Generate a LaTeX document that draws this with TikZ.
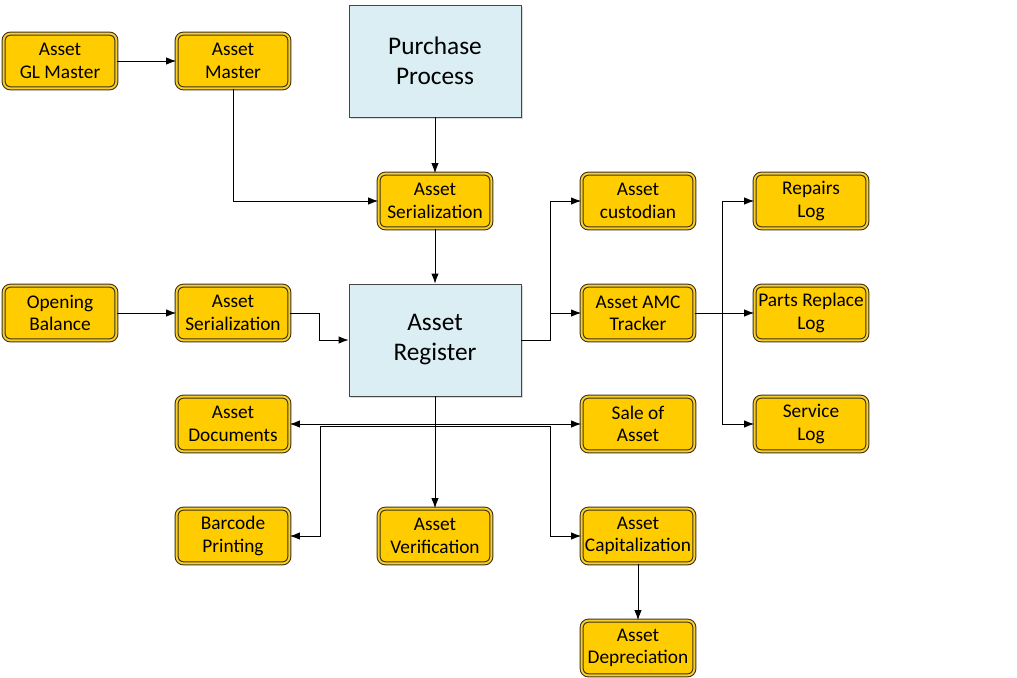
\documentclass[tikz,border=0pt]{standalone}
\usepackage{fontspec}
\setmainfont{Carlito}
\usetikzlibrary{arrows.meta,shadows}

\definecolor{boxgold}{RGB}{255,204,0}
\definecolor{boxedge}{RGB}{60,52,25}
\definecolor{boxrim}{RGB}{250,205,40}
\definecolor{procblue}{RGB}{218,238,243}
\definecolor{procedge}{RGB}{70,70,70}

\begin{document}
\begin{tikzpicture}[x=0.75pt,y=-0.75pt,
	module/.style={draw=boxedge, line width=0.8pt, double=boxrim, double distance=1.4pt,
		fill=boxgold, rounded corners=5pt, minimum width=84.5pt, minimum height=41pt,
		align=center, font=\fontsize{14.5}{16.8}\selectfont, inner sep=1pt,
		drop shadow={opacity=0.35, shadow xshift=1pt, shadow yshift=-1pt}},
	process/.style={draw=procedge, line width=0.6pt, fill=procblue,
		minimum width=129pt, minimum height=84pt, align=center,
		font=\fontsize{19}{22.5}\selectfont,
		drop shadow={opacity=0.3, shadow xshift=1.5pt, shadow yshift=-1.5pt}},
	arr/.style={-{Latex[length=7.5pt,width=5.5pt]}, line width=0.6pt}]

\useasboundingbox (0,0) rectangle (1017,678);

% main processes
\node[process] (pp)  at (435,61)  {Purchase\\Process};
\node[process] (reg) at (435,340) {Asset\\Register};

% masters and serialization
\node[module] (glm)  at (60,61)   {Asset\\GL Master};
\node[module] (am)   at (233,61)  {Asset\\Master};
\node[module] (ser1) at (435,201) {Asset\\Serialization};
\node[module] (ob)   at (60,313)  {Opening\\Balance};
\node[module] (ser2) at (233,313) {Asset\\Serialization};

% right side
\node[module] (cust) at (638,201) {Asset\\custodian};
\node[module] (amc)  at (638,313) {Asset AMC\\Tracker};
\node[module] (sale) at (638,424) {Sale of\\Asset};
\node[module] (rep)  at (811,201) {Repairs\\Log};
\node[module] (prl)  at (811,313) {Parts Replace\\Log};
\node[module] (svc)  at (811,424) {Service\\Log};

% bottom
\node[module] (doc)  at (233,424) {Asset\\Documents};
\node[module] (bar)  at (233,536) {Barcode\\Printing};
\node[module] (ver)  at (435,536) {Asset\\Verification};
\node[module] (cap)  at (638,536) {Asset\\Capitalization};
\node[module] (dep)  at (638,648) {Asset\\Depreciation};

\coordinate (split) at (435,426);

\draw[arr] (glm) -- (am);
\draw[arr] (am) |- (ser1);
\draw[arr] (pp) -- (ser1);
\draw[arr] (ser1) -- (reg);
\draw[arr] (ob) -- (ser2);
\draw[arr] (ser2.east) -- ++(30,0) |- (reg.west);

\draw[arr] (reg.east) -- ++(29,0) |- (cust.west);
\draw[arr] (reg.east) ++(29,0) |- (amc.west);
\draw[arr] (amc) -- (prl);
\draw[arr] (amc.east) -- ++(28,0) |- (rep.west);
\draw[arr] (amc.east) ++(28,0) |- (svc.west);

\draw[arr] (reg) -- (ver);
\draw[arr] (reg.south) |- (doc.east);
\draw[arr] (reg.south) |- (sale.west);
\draw[arr] (split) -- ++(-115,0) |- (bar.east);
\draw[arr] (split) -- ++(115,0) |- (cap.west);
\draw[arr] (cap) -- (dep);

\end{tikzpicture}
\end{document}
